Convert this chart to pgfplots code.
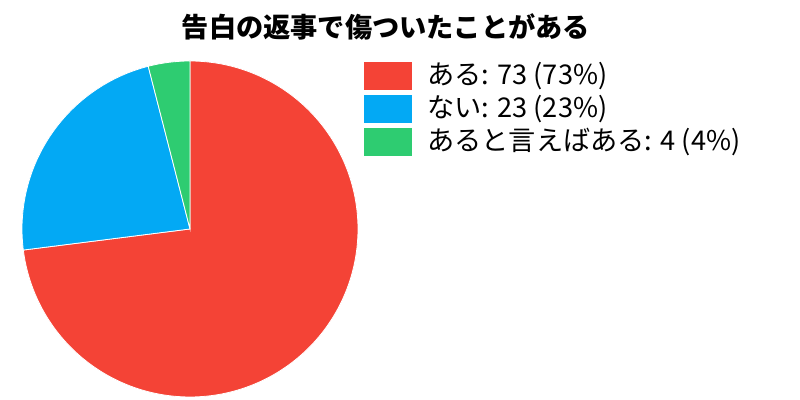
\documentclass[border=0pt]{standalone}
\usepackage{pgfplots}
\pgfplotsset{compat=1.18}
\usepackage{fontspec}
\setmainfont{Noto Sans CJK JP}
\definecolor{pieRed}{RGB}{244,67,54}
\definecolor{pieBlue}{RGB}{3,169,244}
\definecolor{pieGreen}{RGB}{46,204,113}
% counts per answer (total 100)
\def\vA{73}
\def\vB{23}
\def\vC{4}
\begin{document}
\begin{tikzpicture}
\begin{axis}[
  scale only axis,
  width=400pt, height=200pt,
  xmin=0, xmax=800, ymin=0, ymax=400,
  hide axis, clip=false,
  legend image code/.code={\fill[#1,draw=none] (0pt,-7pt) rectangle (24pt,7pt);},
  legend cell align=left,
  legend style={
    at={(axis cs:364,338)}, anchor=north west,
    draw=none, fill=none, inner sep=0pt, row sep=2.5pt,
    font=\fontsize{13.6pt}{16pt}\selectfont,
    nodes={inner sep=0pt, text height=11pt, text depth=3pt},
    /tikz/every odd column/.append style={column sep=7.5pt},
  },
]
\path (axis cs:0,0) rectangle (axis cs:800,400);
\addplot[fill=pieRed, draw=white, line width=0.4pt, domain={90-3.6*\vA}:90, samples=200]
  ({190+168*cos(x)},{171+168*sin(x)}) -- (axis cs:190,171) -- cycle;
\addlegendentry{ある: 73 (73\%)}
\addplot[fill=pieBlue, draw=white, line width=0.4pt, domain={90-3.6*(\vA+\vB)}:{90-3.6*\vA}, samples=100]
  ({190+168*cos(x)},{171+168*sin(x)}) -- (axis cs:190,171) -- cycle;
\addlegendentry{ない: 23 (23\%)}
\addplot[fill=pieGreen, draw=white, line width=0.4pt, domain={90-3.6*(\vA+\vB+\vC)}:{90-3.6*(\vA+\vB)}, samples=30]
  ({190+168*cos(x)},{171+168*sin(x)}) -- (axis cs:190,171) -- cycle;
\addlegendentry{あると言えばある: 4 (4\%)}
\node[font=\bfseries\fontsize{13.6pt}{16pt}\selectfont, anchor=center] at (axis cs:386,373) {告白の返事で傷ついたことがある};
\end{axis}
\end{tikzpicture}
\end{document}
